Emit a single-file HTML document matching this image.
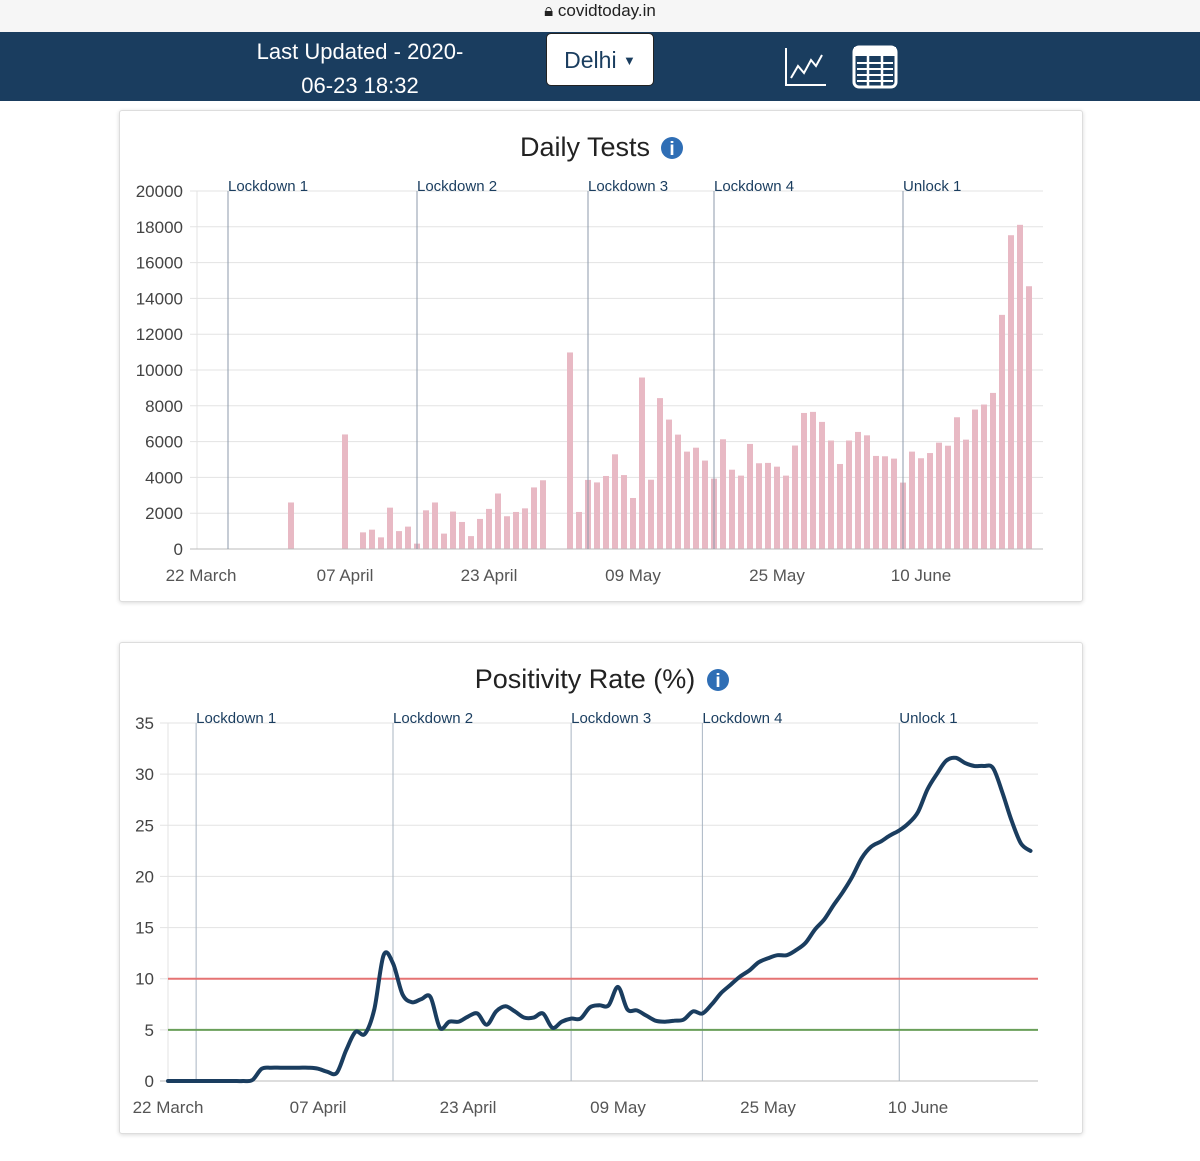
<!DOCTYPE html>
<html><head><meta charset="utf-8">
<style>
html,body{margin:0;padding:0;width:1200px;height:1161px;background:#fff;overflow:hidden;font-family:"Liberation Sans",sans-serif;}
#topbar{position:absolute;left:0;top:0;width:1200px;height:32px;background:#f6f6f6;}
#url{position:absolute;left:0;width:1200px;top:1px;text-align:center;font-size:17px;color:#222;}
#nav{position:absolute;left:0;top:32px;width:1200px;height:69px;background:#1a3d5f;}
.upd{position:absolute;left:220px;width:280px;text-align:center;color:#fff;font-size:22px;}
#dd{position:absolute;left:546px;top:1px;width:108px;height:53px;background:#fff;border:1px solid #222;border-radius:5px;box-sizing:border-box;color:#1a3d5f;font-size:23px;text-align:center;line-height:53px;}
.card{position:absolute;left:119px;width:962px;height:490px;border:1px solid #ddd;border-radius:3px;box-shadow:0 1px 4px rgba(0,0,0,0.15);background:#fff;}
svg text{font-family:"Liberation Sans",sans-serif;}
</style></head><body>
<div id="topbar"><div id="url">🔒︎ covidtoday.in</div></div>
<div id="nav">
  <div class="upd" style="top:7px">Last Updated - 2020-</div>
  <div class="upd" style="top:41px">06-23 18:32</div>
  <div id="dd">Delhi <span style="font-size:13px;vertical-align:3px">▼</span></div>
  <svg style="position:absolute;left:784px;top:14px" width="44" height="42">
    <polyline points="2,2 2,39 42,39" fill="none" stroke="#fff" stroke-width="2"/>
    <polyline points="7,32 14,20 20,27 27,14 32,20 38,9" fill="none" stroke="#fff" stroke-width="2"/>
  </svg>
  <svg style="position:absolute;left:852px;top:13px" width="46" height="44">
    <rect x="2" y="2" width="42" height="40" rx="5" fill="none" stroke="#fff" stroke-width="3"/>
    <rect x="2" y="2" width="42" height="9" fill="#fff"/>
    <line x1="16" y1="2" x2="16" y2="42" stroke="#fff" stroke-width="2.5"/>
    <line x1="30" y1="2" x2="30" y2="42" stroke="#fff" stroke-width="2.5"/>
    <g stroke="#fff" stroke-width="2"><line x1="5" y1="18" x2="41" y2="18"/><line x1="5" y1="24" x2="41" y2="24"/><line x1="5" y1="30" x2="41" y2="30"/><line x1="5" y1="36" x2="41" y2="36"/></g>
  </svg>
</div>
<div class="card" style="top:110px"></div>
<div class="card" style="top:642px"></div>
<svg id="s" width="1200" height="1161" style="position:absolute;left:0;top:0"></svg>
<script>
const testDays=[10,16,18,19,20,21,22,23,24,25,26,27,28,29,30,31,32,33,34,35,36,37,38,41,42,43,44,45,46,47,48,49,50,51,52,53,54,55,56,57,58,59,60,61,62,63,64,65,66,67,68,69,70,71,72,73,74,75,76,77,78,79,80,81,82,83,84,85,86,87,88,89,90,91,92];
const testValues=[2600,6400,930,1080,650,2310,1000,1250,300,2160,2600,860,2090,1510,720,1680,2240,3100,1830,2070,2270,3440,3840,10980,2070,3860,3720,4080,5290,4130,2850,9580,3870,8430,7230,6390,5440,5660,4940,3930,6130,4430,4100,5870,4790,4810,4600,4100,5780,7600,7660,7100,6060,4750,6060,6540,6350,5200,5180,5050,3710,5440,5070,5360,5940,5770,7360,6110,7790,8070,8720,13080,17530,18110,14680];
const testTicks=[0,2000,4000,6000,8000,10000,12000,14000,16000,18000,20000];
const posValues=[0,0,0,0,0,0,0,0,0,0.1,1.2,1.3,1.3,1.3,1.3,1.3,1.2,0.9,0.8,3,4.8,4.6,7,12.3,11.5,8.5,7.7,8,8.2,5.2,5.8,5.8,6.3,6.6,5.5,6.8,7.3,6.8,6.2,6.2,6.6,5.2,5.8,6.1,6.1,7.2,7.4,7.4,9.2,7.0,6.9,6.4,5.9,5.8,5.9,6.0,6.8,6.6,7.5,8.6,9.4,10.2,10.8,11.6,12.0,12.3,12.3,12.8,13.5,14.8,15.8,17.2,18.5,20,21.8,22.9,23.4,24.0,24.5,25.2,26.3,28.5,30,31.3,31.6,31.1,30.8,30.8,30.6,28.2,25.4,23.2,22.5];
const posTicks=[0,5,10,15,20,25,30,35];
const dateLabels=["22 March","07 April","23 April","09 May","25 May","10 June"];
const dateDays=[0,16,32,48,64,80];
const phaseNames=["Lockdown 1","Lockdown 2","Lockdown 3","Lockdown 4","Unlock 1"];
const phaseDays=[3,24,43,57,78];
const thresholds=[10,5];

const S=document.getElementById('s');const NS='http://www.w3.org/2000/svg';
function mk(t,a,p){const e=document.createElementNS(NS,t);for(const k in a)e.setAttribute(k,a[k]);(p||S).appendChild(e);return e;}
function txt(x,y,s,size,fill,anchor,p){const e=mk('text',{x:x,y:y,'font-size':size,fill:fill,'text-anchor':anchor||'start'},p);e.textContent=s;return e;}
function info(cx,cy,p){mk('circle',{cx:cx,cy:cy,r:11,fill:'#2f6eb5'},p);const t=txt(cx,cy+7,'i',19,'#fff','middle',p);t.setAttribute('font-weight','bold');}

// Chart 1
const g1=mk('g',{});
const x1=d=>201+9*d, y1=v=>549-v*(358/20000);
const t1=txt(585,156,'Daily Tests',27,'#222','middle',g1);
info(672,148,g1);
testTicks.forEach(v=>{mk('line',{x1:190,x2:1043,y1:y1(v),y2:y1(v),stroke:'#e3e3e3','stroke-width':1},g1);
  const l=txt(183,y1(v)+6,String(v),17,'#444','end',g1);});
mk('line',{x1:197,x2:197,y1:191,y2:549,stroke:'#e3e3e3'},g1);
testDays.forEach((d,i)=>{const r=mk('rect',{x:x1(d)-3,y:y1(testValues[i]),width:6,height:549-y1(testValues[i]),fill:'#e8b9c4'},g1);
  });
mk('line',{x1:190,x2:1043,y1:549,y2:549,stroke:'#bbb'},g1);
phaseDays.forEach((d,i)=>{mk('line',{x1:x1(d),x2:x1(d),y1:191,y2:549,stroke:'#8c9aab','stroke-width':1},g1);
  const l=txt(x1(d),191,phaseNames[i],15,'#1a3d5f','start',g1);});
dateDays.forEach((d,i)=>{const l=txt(x1(d),581,dateLabels[i],17,'#555','middle',g1);});

// Chart 2
const g2=mk('g',{});
const x2=d=>168+9.375*d, y2=v=>1081-v*(358/35);
const t2=txt(585,688,'Positivity Rate (%)',27,'#222','middle',g2);
info(718,680,g2);
posTicks.forEach(v=>{mk('line',{x1:160,x2:1038,y1:y2(v),y2:y2(v),stroke:'#e3e3e3'},g2);
  const l=txt(154,y2(v)+6,String(v),17,'#444','end',g2);});
mk('line',{x1:168,x2:168,y1:723,y2:1081,stroke:'#e3e3e3'},g2);
mk('line',{x1:160,x2:1038,y1:1081,y2:1081,stroke:'#bbb'},g2);
phaseDays.forEach((d,i)=>{mk('line',{x1:x2(d),x2:x2(d),y1:723,y2:1081,stroke:'#a9b5c2'},g2);
  const l=txt(x2(d),723,phaseNames[i],15,'#1a3d5f','start',g2);});
const thColors=['#e57373','#6a9f5a'];
thresholds.forEach((v,i)=>{const l=mk('line',{x1:168,x2:1038,y1:y2(v),y2:y2(v),stroke:thColors[i],'stroke-width':2},g2);
  });
const pts=posValues.map((v,i)=>[x2(i),y2(v)]);
let d='M'+pts[0][0]+','+pts[0][1];
for(let i=0;i<pts.length-1;i++){const p0=pts[Math.max(0,i-1)],p1=pts[i],p2=pts[i+1],p3=pts[Math.min(pts.length-1,i+2)];
  const c1=[p1[0]+(p2[0]-p0[0])/6,p1[1]+(p2[1]-p0[1])/6],c2=[p2[0]-(p3[0]-p1[0])/6,p2[1]-(p3[1]-p1[1])/6];
  d+=' C'+c1[0].toFixed(1)+','+c1[1].toFixed(1)+' '+c2[0].toFixed(1)+','+c2[1].toFixed(1)+' '+p2[0].toFixed(1)+','+p2[1].toFixed(1);}
const ln=mk('path',{d:d,fill:'none',stroke:'#1a3d5f','stroke-width':4,'stroke-linecap':'round','stroke-linejoin':'round'},g2);

dateDays.forEach((d,i)=>{const l=txt(x2(d),1113,dateLabels[i],17,'#555','middle',g2);});
</script>
</body></html>
